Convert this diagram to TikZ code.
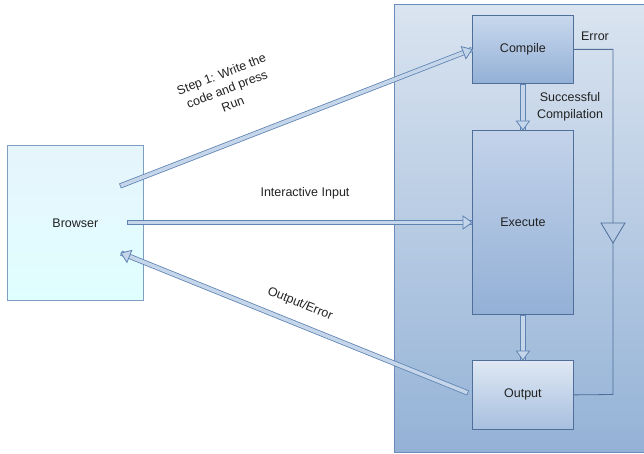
\documentclass[tikz,border=0pt]{standalone}
\usepackage{fontspec}
\setmainfont{Liberation Sans}
\usetikzlibrary{decorations.markings}
\definecolor{arrowb}{HTML}{5F84B3}
\definecolor{arrowf}{HTML}{C5D6EA}
\definecolor{boxb}{HTML}{4F6F9A}
\definecolor{contb}{HTML}{6A8CBC}
\definecolor{txt}{HTML}{222222}
\tikzset{
  lbl/.style={font=\fontsize{12.5}{15}\selectfont, text=txt, align=center},
  procbox/.style={draw=boxb, line width=0.8pt, anchor=north west, minimum width=101pt, inner sep=0pt, lbl},
  fat/.style={draw=none,
    preaction={draw=arrowb, line width=5.2pt},
    postaction={draw=arrowf, line width=3.6pt, shorten <=0.8pt},
    postaction={decorate},
    decoration={markings,
      mark=at position 1 with {\draw[draw=arrowb, fill=arrowf, line width=0.8pt, line join=miter] (-9,-6.5) -- (0,0) -- (-9,6.5) -- cycle;}}},
  errline/.style={draw=boxb, line width=0.8pt}
}
\begin{document}
\begin{tikzpicture}[x=1pt,y=-1pt]
\useasboundingbox (0,0) rectangle (644,454);
% container
\path[draw=contb, line width=1pt, top color={rgb,255:red,218;green,228;blue,240}, bottom color={rgb,255:red,148;green,178;blue,214}] (394,5) rectangle (660,452);
% browser
\node[procbox, draw={rgb,255:red,127;green,159;blue,192}, minimum width=136pt, minimum height=155pt,
  top color={rgb,255:red,230;green,244;blue,252}, bottom color={rgb,255:red,224;green,255;blue,255}] (browser) at (7,145) {Browser};
% process boxes
\node[procbox, minimum height=68pt, top color={rgb,255:red,200;green,216;blue,237}, bottom color={rgb,255:red,147;green,176;blue,214}] (compile) at (472,15) {Compile};
\node[procbox, minimum height=184pt, top color={rgb,255:red,195;green,211;blue,234}, bottom color={rgb,255:red,147;green,176;blue,214}] (execute) at (472,130) {Execute};
\node[procbox, minimum height=69pt, top color={rgb,255:red,223;green,232;blue,243}, bottom color={rgb,255:red,167;green,191;blue,223}] (output) at (472,360) {Output};
% error path
\coordinate (ecorner) at (613,394.5);
\draw[errline] (compile.east) -| (ecorner) -- (output.east);
\draw[errline, fill={rgb,255:red,182;green,202;blue,227}, line join=miter] (601,223) -- (625,223) -- (613,243) -- cycle;
\node[lbl] (errlbl) at (595,36) {Error};
\node[lbl, inner sep=0pt] (succ) at (570,107) {Successful\\[2pt]Compilation};
% vertical hollow arrows
\draw[fat] (compile.south) -- (execute.north);
\draw[fat] (execute.south) -- (output.north);
% browser arrows
\coordinate (s1) at (120,186);
\coordinate (s2) at (127,222.5);
\coordinate (s3) at (468,393);
\coordinate (t3) at (121,253);
\draw[fat] (s1) -- (compile.west);
\draw[fat] (s2) -- (execute.west |- s2);
\draw[fat] (s3) -- (t3);
% labels
\node[lbl, rotate=21, inner sep=0pt] (step1) at (227,89) {Step 1: Write the\\[1pt]code and press\\[1pt]Run};
\node[lbl] (intlbl) at (305,193) {Interactive Input};
\node[lbl, rotate=-22] (oelbl) at (300,304) {Output/Error};
\end{tikzpicture}
\end{document}
